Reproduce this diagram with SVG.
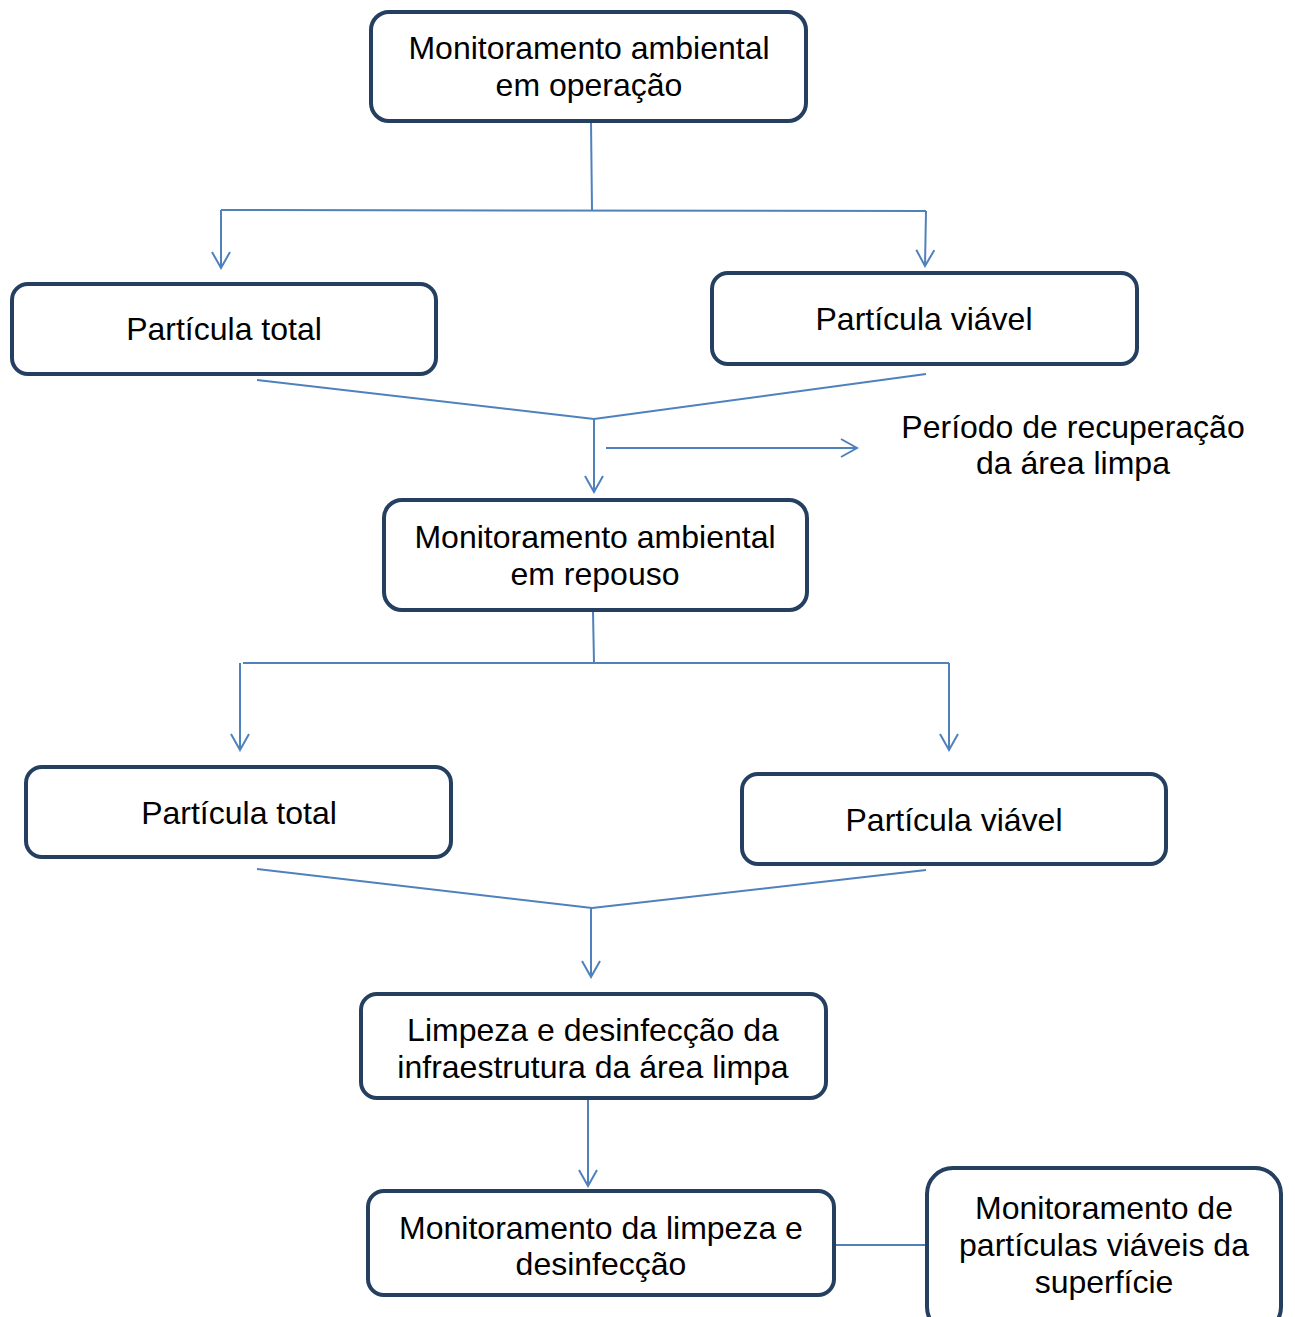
<svg xmlns="http://www.w3.org/2000/svg" width="1295" height="1317" viewBox="0 0 1295 1317">
<style>
.box{fill:#fff;stroke:#243F60;stroke-width:4}
.t{font-family:"Liberation Sans",Arial,sans-serif;font-size:32px;fill:#000;text-anchor:middle}
.c{fill:none;stroke:#4F81BD;stroke-width:2}
</style>
<defs>
<marker id="ah" viewBox="0 0 20 20" refX="18" refY="10" markerWidth="20" markerHeight="20" markerUnits="userSpaceOnUse" orient="auto">
<path d="M2,1 L18,10 L2,19" fill="none" stroke="#4F81BD" stroke-width="2"/>
</marker>
</defs>
<rect width="1295" height="1317" fill="#fff"/>
<g id="connectors">
<path class="c" d="M591,122 L592,210"/>
<path class="c" d="M221,210 L926,211"/>
<path class="c" d="M221,210 L221,268" marker-end="url(#ah)"/>
<path class="c" d="M926,211 L925,266" marker-end="url(#ah)"/>
<path class="c" d="M257,380 L594,419 L926,374"/>
<path class="c" d="M594,419 L594,492" marker-end="url(#ah)"/>
<path class="c" d="M606,448 L857,448" marker-end="url(#ah)"/>
<path class="c" d="M593,612 L594,663"/>
<path class="c" d="M243,663 L949,663"/>
<path class="c" d="M240,663 L240,750" marker-end="url(#ah)"/>
<path class="c" d="M949,663 L949,750" marker-end="url(#ah)"/>
<path class="c" d="M257,869 L592,908 L926,870"/>
<path class="c" d="M591,908 L591,977" marker-end="url(#ah)"/>
<path class="c" d="M588,1100 L588,1186" marker-end="url(#ah)"/>
<path class="c" d="M836,1245 L927,1245"/>
</g>
<g id="n1"><rect class="box" x="371" y="12" width="435" height="109" rx="18"/>
<text class="t" x="589" y="59">Monitoramento ambiental</text><text class="t" x="589" y="96">em operação</text></g>
<g id="n2"><rect class="box" x="12" y="284" width="424" height="90" rx="16"/>
<text class="t" x="224" y="340">Partícula total</text></g>
<g id="n3"><rect class="box" x="712" y="273" width="425" height="91" rx="16"/>
<text class="t" x="924" y="330">Partícula viável</text></g>
<g id="n4"><text class="t" x="1073" y="438">Período de recuperação</text><text class="t" x="1073" y="474">da área limpa</text></g>
<g id="n5"><rect class="box" x="384" y="500" width="423" height="110" rx="18"/>
<text class="t" x="595" y="548">Monitoramento ambiental</text><text class="t" x="595" y="585">em repouso</text></g>
<g id="n6"><rect class="box" x="26" y="767" width="425" height="90" rx="16"/>
<text class="t" x="239" y="824">Partícula total</text></g>
<g id="n7"><rect class="box" x="742" y="774" width="424" height="90" rx="16"/>
<text class="t" x="954" y="831">Partícula viável</text></g>
<g id="n8"><rect class="box" x="361" y="994" width="465" height="104" rx="16"/>
<text class="t" x="593" y="1041">Limpeza e desinfecção da</text><text class="t" x="593" y="1078">infraestrutura da área limpa</text></g>
<g id="n9"><rect class="box" x="368" y="1191" width="466" height="104" rx="16"/>
<text class="t" x="601" y="1239">Monitoramento da limpeza e</text><text class="t" x="601" y="1275">desinfecção</text></g>
<g id="n10"><rect class="box" x="927" y="1168" width="354" height="165" rx="26"/>
<text class="t" x="1104" y="1219">Monitoramento de</text><text class="t" x="1104" y="1256">partículas viáveis da</text><text class="t" x="1104" y="1293">superfície</text></g>
</svg>
